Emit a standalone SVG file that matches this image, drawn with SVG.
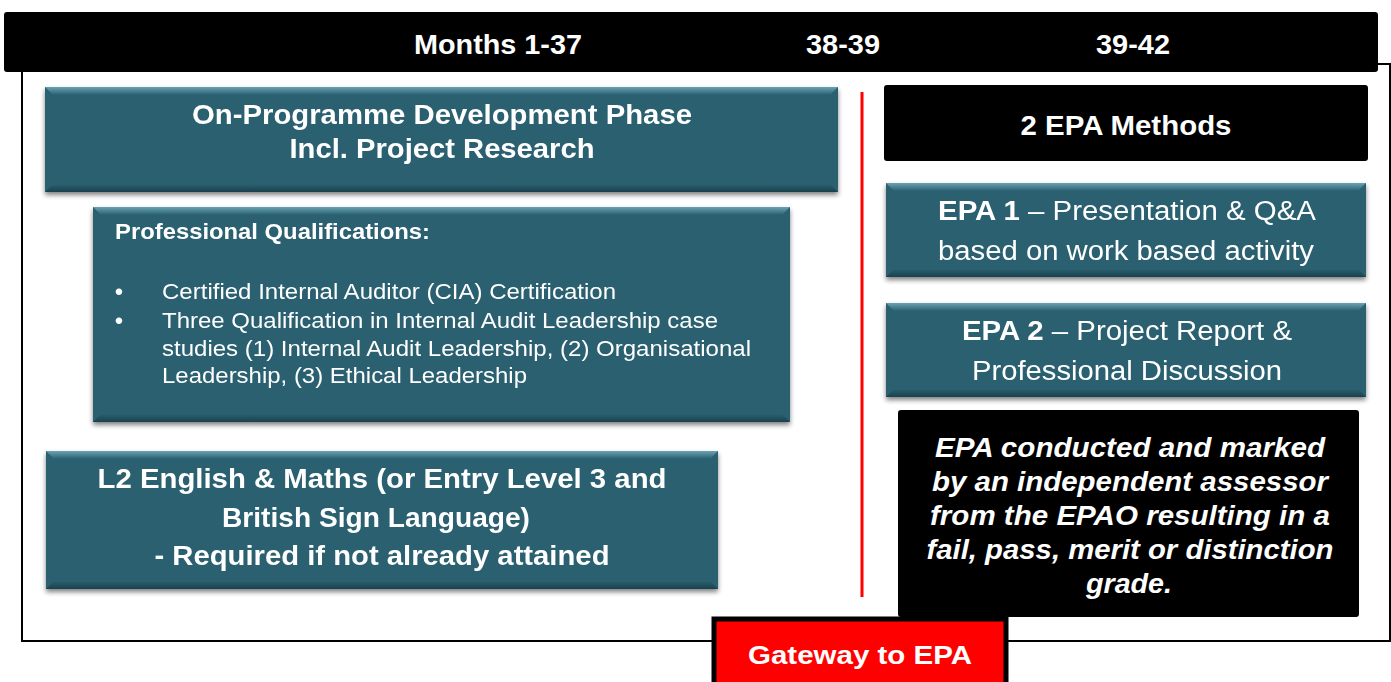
<svg xmlns="http://www.w3.org/2000/svg" width="1391" height="682" viewBox="0 0 1391 682" font-family="'Liberation Sans', Arial, sans-serif">
<defs>
<filter id="sh" x="-5%" y="-10%" width="110%" height="125%">
<feGaussianBlur in="SourceAlpha" stdDeviation="2.5"/>
<feOffset dx="0" dy="3" result="b"/>
<feComponentTransfer><feFuncA type="linear" slope="0.5"/></feComponentTransfer>
<feMerge><feMergeNode/><feMergeNode in="SourceGraphic"/></feMerge>
</filter>
<linearGradient id="topg" x1="0" y1="0" x2="0" y2="1">
<stop offset="0" stop-color="#6aa3b3"/><stop offset="1" stop-color="#2a6070"/>
</linearGradient>
<linearGradient id="botg" x1="0" y1="0" x2="0" y2="1">
<stop offset="0" stop-color="#2a6070"/><stop offset="1" stop-color="#1b414d"/>
</linearGradient>
</defs>
<style>
.teal{fill:#2a6070}
.t{fill:#fff}
.b{font-weight:bold}
.c{text-anchor:middle}
</style>
<g id="frame">
<rect x="22" y="64" width="1368" height="577" fill="#fff" stroke="#000" stroke-width="2"/>
</g>
<g id="header">
<rect x="4" y="12" width="1374" height="60" rx="3" fill="#000"/>
<text class="t b c" x="498" y="54" font-size="28" textLength="168" lengthAdjust="spacingAndGlyphs">Months 1-37</text>
<text class="t b c" x="843" y="54" font-size="28" textLength="74" lengthAdjust="spacingAndGlyphs">38-39</text>
<text class="t b c" x="1133" y="54" font-size="28" textLength="74" lengthAdjust="spacingAndGlyphs">39-42</text>
</g>
<g id="connectors">
<line x1="862" y1="92" x2="862" y2="597" stroke="#f00" stroke-width="3"/>
</g>
<g id="onprog" filter="url(#sh)">
<rect class="teal" x="45" y="87" width="793" height="105"/>
<polygon points="45,87 838,87 830,95 53,95" fill="url(#topg)"/>
<polygon points="45,192 838,192 830,184 53,184" fill="url(#botg)"/>
<text class="t b c" x="442" y="124" font-size="27" textLength="500" lengthAdjust="spacingAndGlyphs">On-Programme Development Phase</text>
<text class="t b c" x="442" y="158" font-size="27" textLength="305" lengthAdjust="spacingAndGlyphs">Incl. Project Research</text>
</g>
<g id="profqual" filter="url(#sh)">
<rect class="teal" x="93" y="207" width="697" height="215"/>
<polygon points="93,207 790,207 782,215 101,215" fill="url(#topg)"/>
<polygon points="93,422 790,422 782,414 101,414" fill="url(#botg)"/>
<text class="t b" x="115" y="239" font-size="22" textLength="315" lengthAdjust="spacingAndGlyphs">Professional Qualifications:</text>
<text class="t c" x="119" y="300" font-size="24">•</text>
<text class="t c" x="119" y="329" font-size="24">•</text>
<text class="t" x="162" y="299" font-size="22" textLength="454" lengthAdjust="spacingAndGlyphs">Certified Internal Auditor (CIA) Certification</text>
<text class="t" x="162" y="328" font-size="22" textLength="556" lengthAdjust="spacingAndGlyphs">Three Qualification in Internal Audit Leadership case</text>
<text class="t" x="162" y="356" font-size="22" textLength="589" lengthAdjust="spacingAndGlyphs">studies (1) Internal Audit Leadership, (2) Organisational</text>
<text class="t" x="162" y="383" font-size="22" textLength="365" lengthAdjust="spacingAndGlyphs">Leadership, (3) Ethical Leadership</text>
</g>
<g id="l2" filter="url(#sh)">
<rect class="teal" x="46" y="451" width="672" height="138"/>
<polygon points="46,451 718,451 710,459 54,459" fill="url(#topg)"/>
<polygon points="46,589 718,589 710,581 54,581" fill="url(#botg)"/>
<text class="t b c" x="382" y="488" font-size="27" textLength="569" lengthAdjust="spacingAndGlyphs">L2 English &amp; Maths (or Entry Level 3 and</text>
<text class="t b c" x="376" y="527" font-size="27" textLength="308" lengthAdjust="spacingAndGlyphs">British Sign Language)</text>
<text class="t b c" x="382" y="565" font-size="27" textLength="455" lengthAdjust="spacingAndGlyphs">- Required if not already attained</text>
</g>
<g id="methods">
<rect x="884" y="85" width="484" height="76" rx="3" fill="#000"/>
<text class="t b c" x="1126" y="135" font-size="27" textLength="211" lengthAdjust="spacingAndGlyphs">2 EPA Methods</text>
</g>
<g id="epa1" filter="url(#sh)">
<rect class="teal" x="886" y="183" width="480" height="94"/>
<polygon points="886,183 1366,183 1358,191 894,191" fill="url(#topg)"/>
<polygon points="886,277 1366,277 1358,269 894,269" fill="url(#botg)"/>
<text class="t c" x="1127" y="220" font-size="27" textLength="378" lengthAdjust="spacingAndGlyphs"><tspan class="b">EPA 1</tspan> – Presentation &amp; Q&amp;A</text>
<text class="t c" x="1126" y="260" font-size="27" textLength="376" lengthAdjust="spacingAndGlyphs">based on work based activity</text>
</g>
<g id="epa2" filter="url(#sh)">
<rect class="teal" x="886" y="303" width="480" height="94"/>
<polygon points="886,303 1366,303 1358,311 894,311" fill="url(#topg)"/>
<polygon points="886,397 1366,397 1358,389 894,389" fill="url(#botg)"/>
<text class="t c" x="1127" y="340" font-size="27" textLength="330" lengthAdjust="spacingAndGlyphs"><tspan class="b">EPA 2</tspan> – Project Report &amp;</text>
<text class="t c" x="1127" y="380" font-size="27" textLength="310" lengthAdjust="spacingAndGlyphs">Professional Discussion</text>
</g>
<g id="conducted">
<rect x="898" y="410" width="461" height="207" rx="3" fill="#000"/>
<g class="t b" font-style="italic" font-size="28">
<text class="c" x="1130" y="457" textLength="390" lengthAdjust="spacingAndGlyphs">EPA conducted and marked</text>
<text class="c" x="1130" y="491" textLength="396" lengthAdjust="spacingAndGlyphs">by an independent assessor</text>
<text class="c" x="1130" y="525" textLength="400" lengthAdjust="spacingAndGlyphs">from the EPAO resulting in a</text>
<text class="c" x="1130" y="559" textLength="407" lengthAdjust="spacingAndGlyphs">fail, pass, merit or distinction</text>
<text class="c" x="1129" y="593" textLength="86" lengthAdjust="spacingAndGlyphs">grade.</text>
</g>
</g>
<g id="gateway">
<rect x="714" y="619" width="292" height="70" fill="#f00" stroke="#000" stroke-width="5"/>
<text class="t b c" x="860" y="664" font-size="26" textLength="224" lengthAdjust="spacingAndGlyphs">Gateway to EPA</text>
</g>
</svg>
